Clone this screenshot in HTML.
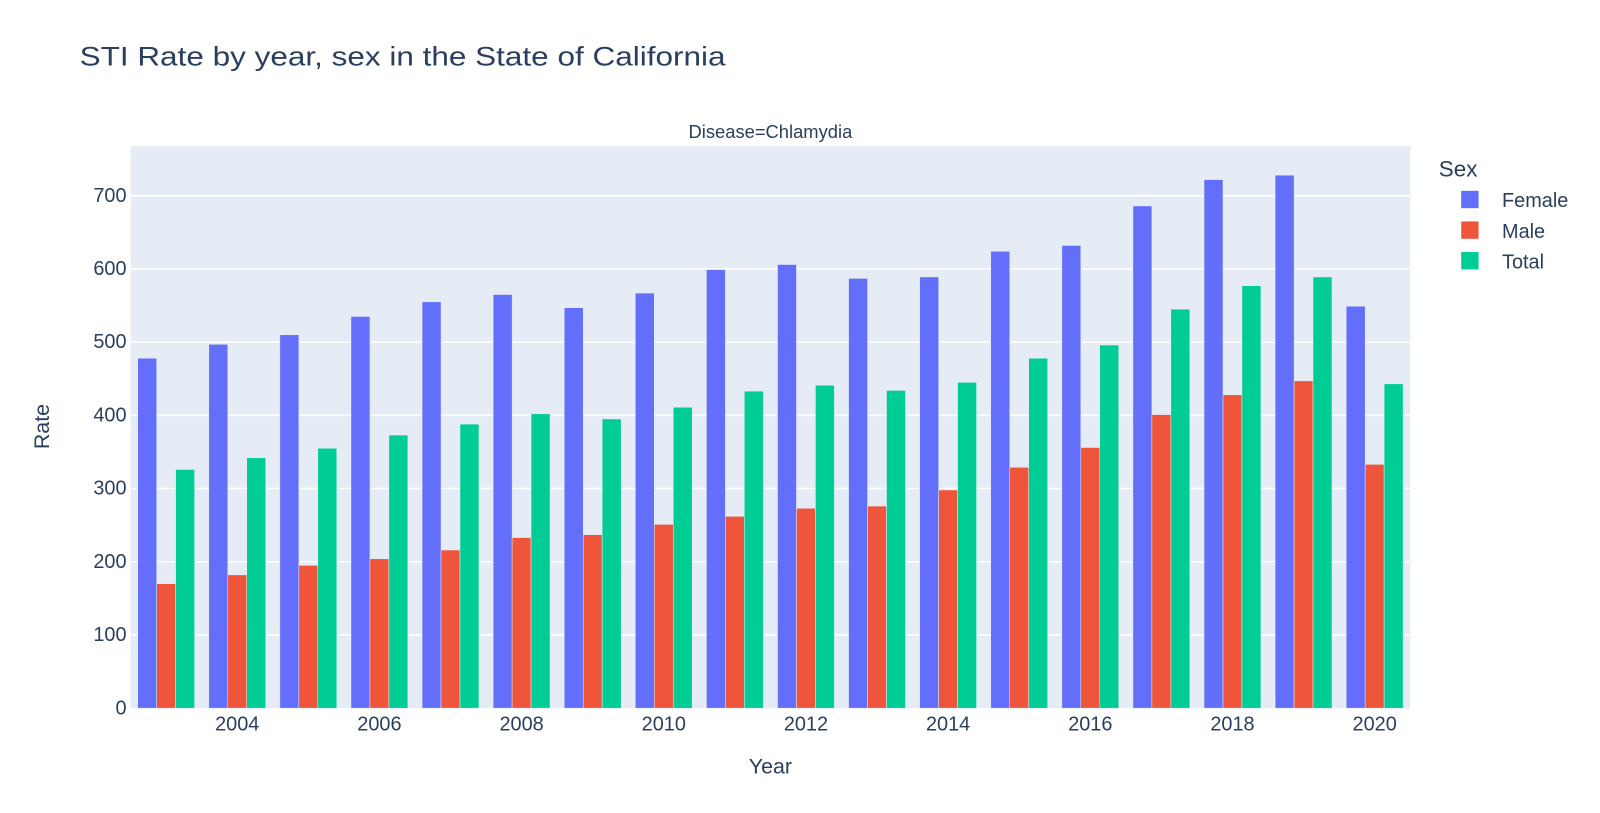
<!DOCTYPE html>
<html><head><meta charset="utf-8"><style>
body{margin:0;background:#fff;}
svg text{font-family:"Liberation Sans",Arial,sans-serif;fill:#2a3f5f;}
</style></head><body>
<svg id="chart" width="1600" height="808" xmlns="http://www.w3.org/2000/svg">
<g transform="scale(1.0204)">
<text x="78" y="64" font-size="26" textLength="633" lengthAdjust="spacingAndGlyphs">STI Rate by year, sex in the State of California</text>
<text x="755" y="135" font-size="18" text-anchor="middle">Disease=Chlamydia</text>
<rect x="128" y="143" width="1254" height="551" fill="#E5ECF6"/>
<g id="grid"></g><g id="bars"></g><g id="axes"></g>
<text x="48" y="418" font-size="21" text-anchor="middle" transform="rotate(-90 48 418)">Rate</text>
<text x="755" y="758" font-size="21" text-anchor="middle">Year</text>
<g>
<text x="1410" y="173" font-size="22">Sex</text>
<g><rect x="1432" y="187" width="17" height="17" fill="#636efa"/><text x="1472" y="203" font-size="19.5">Female</text></g>
<g><rect x="1432" y="217" width="17" height="17" fill="#EF553B"/><text x="1472" y="233" font-size="19.5">Male</text></g>
<g><rect x="1432" y="247" width="17" height="17" fill="#00cc96"/><text x="1472" y="263" font-size="19.5">Total</text></g>
</g>
</g>
</svg>
<script>
const years=[2003,2004,2005,2006,2007,2008,2009,2010,2011,2012,2013,2014,2015,2016,2017,2018,2019,2020];
const female=[478,497,510,535,555,565,547,567,599,606,587,589,624,632,686,722,728,549];
const male=[170,182,195,204,216,233,237,251,262,273,276,298,329,356,401,428,447,333];
const total=[326,342,355,373,388,402,395,411,433,441,434,445,478,496,545,577,589,443];
const yTicks=[0,100,200,300,400,500,600,700];
const xTicks=[2004,2006,2008,2010,2012,2014,2016,2018,2020];
const NS="http://www.w3.org/2000/svg";
const L=128,R=1382,T=143,B=694;
const yMax=768;
const y=v=>B-v/yMax*(B-T);
const gw=(R-L)/years.length;
const x=yr=>L+(yr-years[0]+0.5)*gw;
const grid=document.getElementById('grid'),bars=document.getElementById('bars'),axes=document.getElementById('axes');
yTicks.forEach(t=>{
 if(t>0){const l=document.createElementNS(NS,'line');
 l.setAttribute('x1',L);l.setAttribute('x2',R);l.setAttribute('y1',y(t));l.setAttribute('y2',y(t));
 l.setAttribute('stroke','#fff');l.setAttribute('stroke-width','1.5');
 
 
 grid.appendChild(l);}
 const tx=document.createElementNS(NS,'text');
 tx.setAttribute('x',L-4);tx.setAttribute('y',y(t)+6);tx.setAttribute('text-anchor','end');tx.setAttribute('font-size','19.5');
 tx.textContent=t;
 
 
 axes.appendChild(tx);
});
xTicks.forEach(t=>{
 const tx=document.createElementNS(NS,'text');
 tx.setAttribute('x',x(t));tx.setAttribute('y',716);tx.setAttribute('text-anchor','middle');tx.setAttribute('font-size','19.5');
 tx.textContent=t;
 
 
 axes.appendChild(tx);
});
const series=[[female,'#636efa','female'],[male,'#EF553B','male'],[total,'#00cc96','total']];
const bw=gw*0.8/3;
years.forEach((yr,i)=>{
 series.forEach((s,j)=>{
  const r=document.createElementNS(NS,'rect');
  const x0=x(yr)-gw*0.4+j*bw;
  r.setAttribute('x',x0);r.setAttribute('width',bw);
  r.setAttribute('y',y(s[0][i]));r.setAttribute('height',B-y(s[0][i]));
  r.setAttribute('fill',s[1]);r.setAttribute('stroke','#E5ECF6');r.setAttribute('stroke-width','0.5');
  
  
  bars.appendChild(r);
 });
});
</script>
</body></html>
